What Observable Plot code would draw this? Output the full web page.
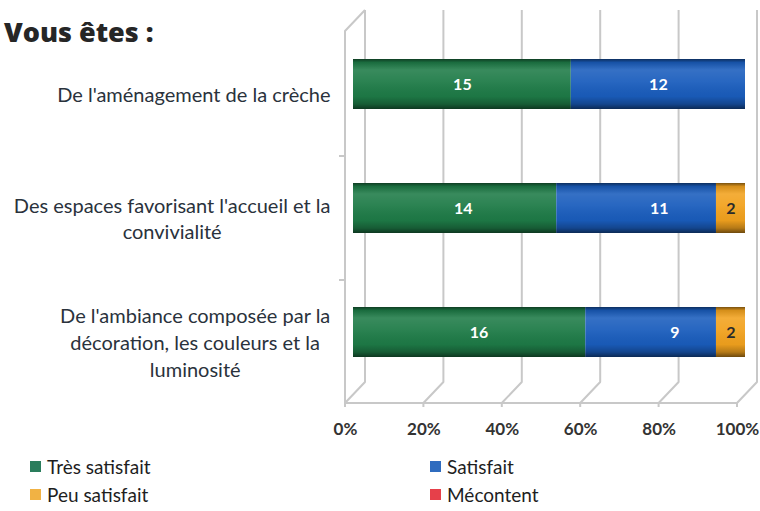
<!DOCTYPE html>
<html><head><meta charset="utf-8">
<script src="https://cdn.jsdelivr.net/npm/d3@7"></script>
<script src="https://cdn.jsdelivr.net/npm/@observablehq/plot@0.6"></script>
<style>
body{margin:0;background:#fff;font-family:Lato,"Open Sans",sans-serif;}
#wrap{position:relative;width:760px;height:511px;overflow:hidden;}
#chart{position:absolute;left:0;top:0;}
#title{position:absolute;left:4px;top:13px;font:800 27px "Open Sans",sans-serif;color:#262626;}
.lg{position:absolute;font:19px Lato,sans-serif;color:#1e1e1e;display:flex;align-items:center;height:22px;}
.lg span.sw{display:inline-block;width:11px;height:11px;margin-right:6px;}
</style>
</head><body>
<div id="wrap">
<div id="chart"></div>
<div id="title">Vous êtes :</div>
<div id="legend"></div>
</div>
<script>
const categories = [
  "De l'aménagement de la crèche",
  "Des espaces favorisant l'accueil et la convivialité",
  "De l'ambiance composée par la décoration, les couleurs et la luminosité"
];
const categoryLines = [
  "De l'aménagement de la crèche",
  "Des espaces favorisant l'accueil et la\nconvivialité",
  "De l'ambiance composée par la\ndécoration, les couleurs et la\nluminosité"
];
const statuses = ["Très satisfait", "Satisfait", "Peu satisfait", "Mécontent"];
const tresSatisfait = [15, 14, 16];
const satisfait = [12, 11, 9];
const peuSatisfait = [0, 2, 2];
const mecontent = [0, 0, 0];
const tickValues = [0, 0.2, 0.4, 0.6, 0.8, 1];
const barColors = ["#1e7b47", "#1a5dbd", "#f2a21e", "#e03a42"];
const legendColors = ["#2a7d5c", "#2f6cbf", "#f1b244", "#e6404a"];

const series = [tresSatisfait, satisfait, peuSatisfait, mecontent];
const data = [];
categories.forEach((c, i) => statuses.forEach((s, j) => data.push({cat: c, status: s, value: series[j][i]})));
const labelled = data.filter(d => d.value > 0);

const NS = "http://www.w3.org/2000/svg";
function el(tag, attrs) {
  const e = document.createElementNS(NS, tag);
  for (const k in attrs) e.setAttribute(k, attrs[k]);
  return e;
}

function frame3d(index, scales, values, dims) {
  const x = scales.x, y = scales.y;
  const g = el("g", {fill: "none"});
  const defs = el("defs", {});
  const grad = el("linearGradient", {id: "cyl", x1: 0, y1: 0, x2: 0, y2: 1});
  [[0, "#000", 0.5], [0.07, "#000", 0.12], [0.22, "#fff", 0.12], [0.45, "#fff", 0.06], [0.75, "#000", 0.04], [0.9, "#000", 0.25], [1, "#000", 0.55]]
    .forEach(([o, c, a]) => grad.appendChild(el("stop", {offset: o, "stop-color": c, "stop-opacity": a})));
  defs.appendChild(grad);
  g.appendChild(defs);
  const top = dims.marginTop, bottom = dims.height - dims.marginBottom;
  const depthX = 20, depthY = 21;
  const lines = el("g", {stroke: "#c8c8c8", "stroke-width": 2, "stroke-linejoin": "round"});
  const back = t => x(t) + 12;
  tickValues.forEach(t => {
    const b = back(t), f = b - depthX;
    lines.appendChild(el("path", {d: `M${b},${top}L${b},${bottom - depthY}L${f},${bottom}L${f},${bottom + 4}`}));
  });
  const f0 = back(0) - depthX, f1 = back(1) - depthX;
  lines.appendChild(el("path", {d: `M${f0},${bottom}L${f1},${bottom}`}));
  lines.appendChild(el("path", {d: `M${back(0)},${top}L${f0},${top + depthY}L${f0},${bottom}`}));
  const bw = y.bandwidth ? y.bandwidth() : 0;
  for (let i = 0; i < categories.length - 1; i++) {
    const yy = (y(categories[i]) + bw + y(categories[i + 1])) / 2 + 10;
    lines.appendChild(el("path", {d: `M${f0 - 6},${yy}L${f0},${yy}`}));
  }
  g.appendChild(lines);
  return g;
}

// measure label blocks so each wrapped block is right-aligned to the axis, lines centred within it
const ctx = document.createElement("canvas").getContext("2d");
ctx.font = "20px Lato";
const blockWidth = categoryLines.map(t => Math.max(...t.split("\n").map(l => ctx.measureText(l).width)));
const labelGap = 23;

const stackOpts = {y: "cat", x: "value", z: "status", offset: "normalize"};

const plot = Plot.plot({
  width: 760,
  height: 450,
  marginLeft: 353,
  marginRight: 15,
  marginTop: 10,
  marginBottom: 47,
  style: {background: "transparent", fontFamily: "Lato, sans-serif"},
  x: {domain: [0, 1], axis: null},
  y: {domain: categories, axis: null, paddingInner: 0.6, paddingOuter: 0.3, insetTop: 11, insetBottom: 8.5},
  color: {domain: statuses, range: barColors},
  marks: [
    frame3d,
    Plot.barX(data, Plot.stackX({...stackOpts, fill: "status"})),
    Plot.barX(data, Plot.stackX({...stackOpts, fill: "url(#cyl)"})),
    Plot.text(labelled.filter(d => d.status !== "Peu satisfait"), Plot.stackX({...stackOpts, text: d => String(d.value), fill: "white", fontSize: 16, fontWeight: "bold"})),
    Plot.text(labelled, Plot.stackX({...stackOpts, text: d => d.status === "Peu satisfait" ? String(d.value) : "", fill: "#2b2b2b", fontSize: 16, fontWeight: "bold"})),
    ...categories.map((c, i) => Plot.text([c], {y: d => d, text: () => categoryLines[i], frameAnchor: "left", dx: -labelGap - blockWidth[i] / 2, dy: 9, textAnchor: "middle", lineHeight: 1.33, fontSize: 20, fill: "#2a323c"})),
    Plot.text(tickValues, {x: d => d, frameAnchor: "bottom", dx: -8, dy: 31, text: d => d3.format(".0%")(d), fontSize: 17, fontWeight: "bold", fill: "#333"})
  ]
});
document.getElementById("chart").appendChild(plot);

const legend = document.getElementById("legend");
statuses.forEach((s, i) => {
  const d = document.createElement("div");
  d.className = "lg";
  d.style.left = (i % 2 === 0 ? 30 : 430) + "px";
  d.style.top = (455 + Math.floor(i / 2) * 28) + "px";
  d.innerHTML = `<span class="sw" style="background:${legendColors[i]}"></span>${s}`;
  legend.appendChild(d);
});
</script>
</body></html>
